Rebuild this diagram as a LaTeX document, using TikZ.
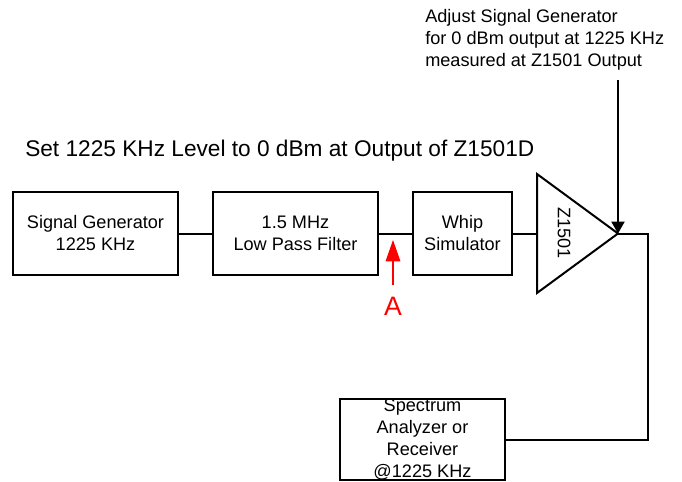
\documentclass[tikz,border=0pt]{standalone}
\usepackage{fontspec}
\setmainfont{Liberation Sans}
\usetikzlibrary{arrows.meta,positioning,calc}
\definecolor{wire}{HTML}{000000}
\definecolor{probe}{HTML}{FF0000}
\tikzset{
  blk/.style={rectangle, draw=wire, line width=1.5pt, fill=white, align=center,
              font=\fontsize{13.6}{16.5}\selectfont, inner sep=0pt},
  lbl/.style={align=left, font=\fontsize{13.6}{16.5}\selectfont, inner sep=0pt},
  wirel/.style={line width=1.5pt, draw=wire},
  arr/.style={-{Triangle[length=9pt,width=10pt]}, line width=1pt, draw=wire},
  redarr/.style={-{Triangle[length=16pt,width=11pt]}, line width=0.8pt, draw=probe, color=probe},
}
\begin{document}
\begin{tikzpicture}[x=0.75pt,y=-0.75pt]
    \useasboundingbox (0,0) rectangle (682,482);
    \node[lbl, anchor=base west, font=\fontsize{17}{19}\selectfont] (title) at (25,156)
      {Set 1225 KHz Level to 0 dBm at Output of Z1501D};
    \node[lbl, anchor=north west] (note) at (425,9)
      {Adjust Signal Generator\\ for 0 dBm output at 1225 KHz\\ measured at Z1501 Output};
    \node[blk, minimum width=165*0.75pt, minimum height=83*0.75pt] (sg) at (95.5,233.5)
      {Signal Generator\\ 1225 KHz};
    \node[blk, minimum width=165*0.75pt, minimum height=83*0.75pt] (lpf) at (295.5,233.5)
      {1.5 MHz\\ Low Pass Filter};
    \node[blk, minimum width=99*0.75pt, minimum height=83*0.75pt] (whip) at (462.5,233.5)
      {Whip\\ Simulator};
    \coordinate (ampin) at (537,233.5);
    \coordinate (ampout) at (618,233.5);
    \draw[wirel, line join=miter] (537,174) -- (ampout) -- (537,293) -- cycle;
    \node[lbl, rotate=-90, anchor=center] (ampname) at (564,233) {Z1501};
    \node[blk, minimum width=165*0.75pt, minimum height=81*0.75pt] (sa) at (422.5,439.5) {};
    \node[lbl, align=center] (satext) at (sa.center)
      {Spectrum\\ Analyzer or\\ Receiver\\ @1225 KHz};
    \coordinate (corner) at (648,233.5);
    \coordinate (turn) at (648,439.5);
    \coordinate (adjtop) at (618,80);
    \coordinate (probetail) at (393,285);
    \coordinate (probetip) at (393,240);
    \draw[wirel] (sg) -- (lpf);
    \draw[wirel] (lpf) -- (whip);
    \draw[wirel] (whip) -- (ampin);
    \draw[wirel] (ampout) -- (corner) -- (turn) -- (sa.east);
    \draw[arr] (adjtop) -- (ampout);
    \draw[redarr] (probetail) -- (probetip);
    \node[text=probe, font=\fontsize{20}{22}\selectfont, inner sep=0pt] (pa) at (393,306) {A};
  \end{tikzpicture}
\end{document}
